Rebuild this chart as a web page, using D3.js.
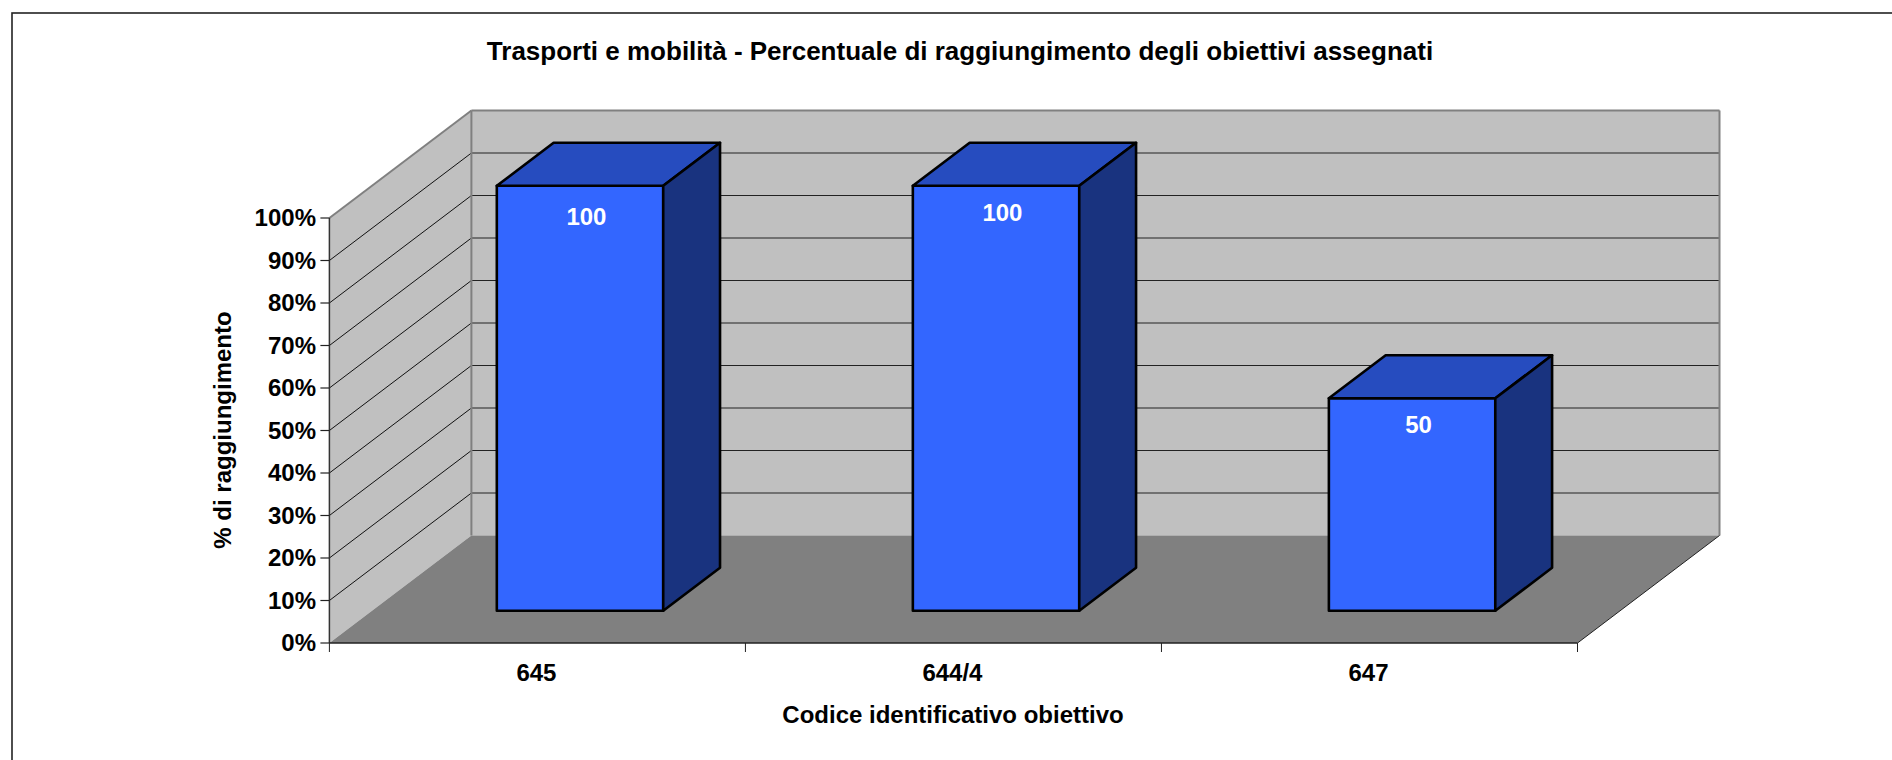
<!DOCTYPE html>
<html><head><meta charset="utf-8">
<style>html,body{margin:0;padding:0;background:#fff}svg{display:block}text{font-family:"Liberation Sans",Arial,sans-serif;font-weight:bold}</style>
<script src="https://cdn.jsdelivr.net/npm/d3@7"></script></head><body>
<script>
const categories = ["645", "644/4", "647"];
const values = [100, 100, 50];
const barLabels = ["100", "100", "50"];
const yTicks = [0, 10, 20, 30, 40, 50, 60, 70, 80, 90, 100];
const titleText = "Trasporti e mobilità - Percentuale di raggiungimento degli obiettivi assegnati";
const xTitle = "Codice identificativo obiettivo";
const yTitle = "% di raggiungimento";

const W = 1892, H = 760;
const svg = d3.select("body").append("svg").attr("width", W).attr("height", H);
const x = d3.scaleBand().domain(categories).range([329.4, 1577.5]).paddingInner(0.6).paddingOuter(0.3);
const y = d3.scaleLinear().domain([0, 100]).range([643, 218]);
const zx = d3.scaleLinear().domain([0, 1]).range([0, 142]);
const zy = d3.scaleLinear().domain([0, 1]).range([0, -107.5]);
const P = (px, v, z) => [px + zx(z), y(v) + zy(z)].join(",");
const L = 329.4, R = 1577.5;
const poly = (pts, fill, stroke, sw) => svg.append("polygon").attr("points", pts.join(" ")).attr("fill", fill)
  .attr("stroke", stroke || "none").attr("stroke-width", sw || 0).attr("stroke-linejoin", "round");
const line = (a, b, stroke, sw) => { const [x1,y1]=a.split(","),[x2,y2]=b.split(",");
  svg.append("line").attr("x1",x1).attr("y1",y1).attr("x2",x2).attr("y2",y2).attr("stroke",stroke).attr("stroke-width",sw); };

// frame
svg.append("rect").attr("x", 12).attr("y", 13).attr("width", W).attr("height", H).attr("fill", "#fff").attr("stroke", "#222").attr("stroke-width", 1.6);

// walls and floor
poly([P(L,0,1),P(R,0,1),P(R,100,1),P(L,100,1)], "#c0c0c0");
poly([P(L,0,0),P(L,0,1),P(L,100,1),P(L,100,0)], "#c0c0c0");
poly([P(L,0,0),P(R,0,0),P(R,0,1),P(L,0,1)], "#808080");

// gridlines
yTicks.filter(t => t > 0 && t < 100).forEach(t => {
  line(P(L,t,0), P(L,t,1), "#111", 1);
  line(P(L,t,1), P(R,t,1), "#222", 1);
});
// wall borders
line(P(L,100,0), P(L,100,1), "#808080", 2);
line(P(L,100,1), P(R,100,1), "#808080", 2);
line(P(R,100,1), P(R,0,1), "#808080", 2);
line(P(L,100,1), P(L,0,1), "#808080", 2);
line(P(R,0,0), P(R,0,1), "#222", 1);

// axes
line(P(L,0,0), P(L,100,0), "#333", 1.5);
line(P(L,0,0), P(R,0,0), "#222", 1.5);
yTicks.forEach(t => line([L-9,y(t)].join(","), [L,y(t)].join(","), "#222", 1.2));
const xTicks = [L, ...categories.map(c => x(c) + x.bandwidth() + x.step() * 0.3)];
xTicks.forEach(tx => line([tx,643].join(","), [tx,652].join(","), "#222", 1));

// bars
categories.forEach((c, i) => {
  const a = x(c), b = a + x.bandwidth(), v = values[i], z0 = 0.3, z1 = 0.7;
  poly([P(a,0,z0),P(b,0,z0),P(b,v,z0),P(a,v,z0)], "#3366ff", "#000", 2.6);
  poly([P(a,v,z0),P(b,v,z0),P(b,v,z1),P(a,v,z1)], "#264cbf", "#000", 2.6);
  poly([P(b,0,z0),P(b,0,z1),P(b,v,z1),P(b,v,z0)], "#19337f", "#000", 2.6);
});

const text = (t, px, py, anchor, size, fill) => svg.append("text")
  .attr("x", px).attr("y", py).attr("text-anchor", anchor)
  .attr("font-size", size).attr("fill", fill).text(t);
text(titleText, 960, 60, "middle", 26, "#000");
text(xTitle, 953, 723, "middle", 24, "#000");
yTicks.forEach(t => text(t + "%", 316, y(t) + 8, "end", 24, "#000"));
categories.forEach(c => text(c, x(c) + x.bandwidth()/2 - 1, 681, "middle", 24, "#000"));
const labelY = [225, 221, 433];
categories.forEach((c, i) => text(barLabels[i], x(c) + x.bandwidth()/2 + 49, labelY[i], "middle", 24, "#fff"));
svg.append("text").attr("transform", "translate(230.5,430) rotate(-90)").attr("text-anchor","middle").attr("font-size",24).text(yTitle);
</script></body></html>
